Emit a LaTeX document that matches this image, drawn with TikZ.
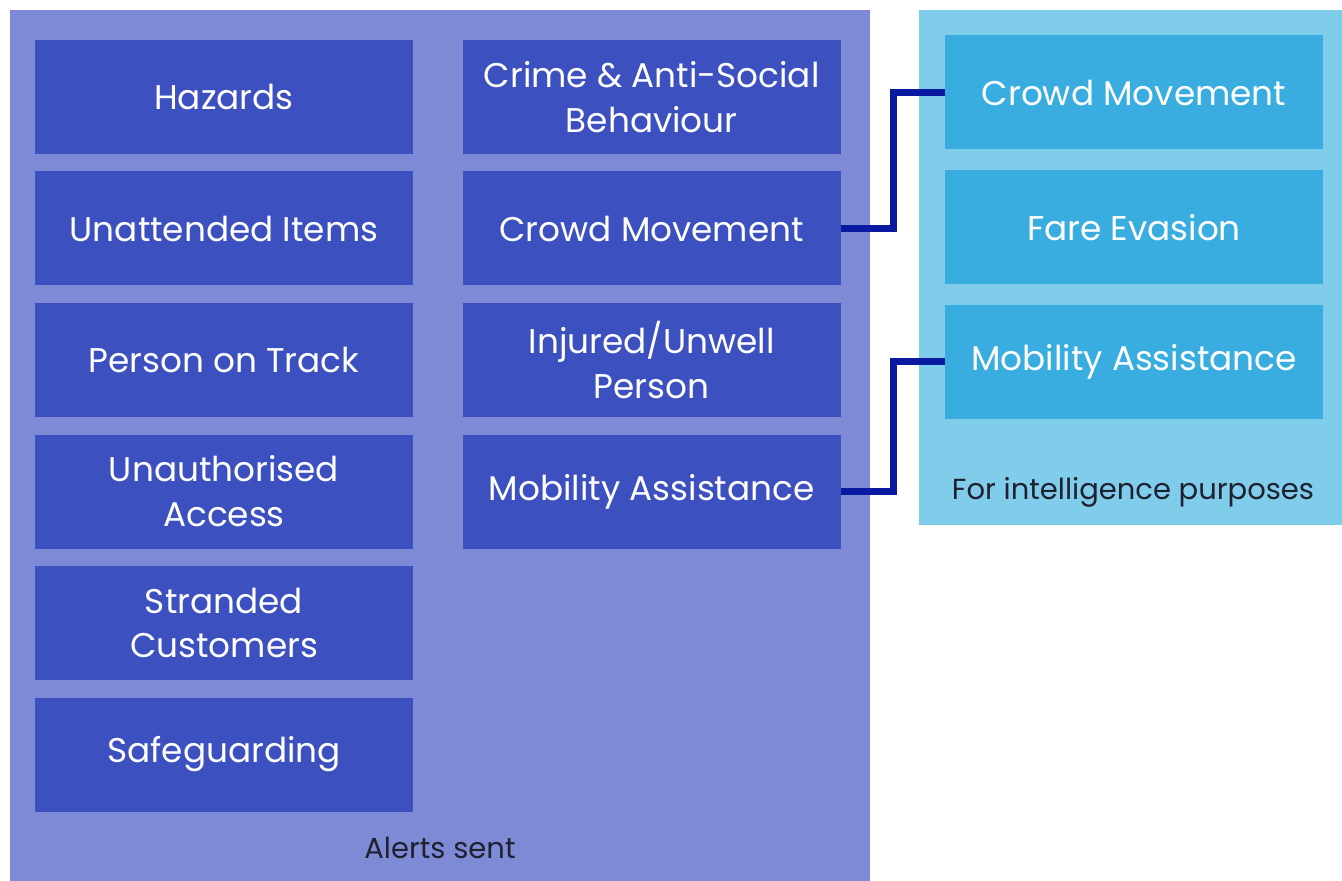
\documentclass[tikz,border=0pt]{standalone}
\usepackage{fontspec}
\setmainfont{Poppins}
\usetikzlibrary{positioning}

\definecolor{alertpanel}{HTML}{7F8AD6}
\definecolor{alertfill}{HTML}{3D50C0}
\definecolor{intelpanel}{HTML}{7FCCEB}
\definecolor{intelfill}{HTML}{39ADE0}
\definecolor{linkblue}{HTML}{0A1AA0}
\definecolor{labeltext}{HTML}{1F2030}

\begin{document}
\begin{tikzpicture}[
node distance=0.336cm,
alertbox/.style={
    fill=alertfill,
    text=white,
    minimum width=7.56cm,
    minimum height=2.28cm,
    inner sep=4pt,
    align=center,
    font=\fontsize{19.5}{25.5}\selectfont
},
intelbox/.style={
    alertbox,
    fill=intelfill
},
panellabel/.style={
    text=labeltext,
    font=\fontsize{16.5}{20}\selectfont
},
link/.style={
    draw=linkblue,
    line width=1.4mm
}
]

\useasboundingbox (0,0) rectangle (26.84,-17.62);

% panels
\fill[alertpanel] (0.2,-0.2) rectangle (17.4,-17.62);
\fill[intelpanel] (18.38,-0.2) rectangle (26.84,-10.5);

% alerts sent, left column
\node[alertbox] (hazards) at (4.48,-1.94) {Hazards};

\node[alertbox] (unattended) [below=of hazards]
{Unattended Items};

\node[alertbox] (track) [below=of unattended]
{Person on Track};

\node[alertbox] (access) [below=of track]
{Unauthorised\\Access};

\node[alertbox] (stranded) [below=of access]
{Stranded\\Customers};

\node[alertbox] (safeguarding) [below=of stranded]
{Safeguarding};

% alerts sent, right column
\node[alertbox] (crime) [right=0.98cm of hazards]
{Crime \& Anti-Social\\Behaviour};

\node[alertbox] (crowd) [below=of crime]
{Crowd Movement};

\node[alertbox] (injured) [below=of crowd]
{Injured/Unwell\\Person};

\node[alertbox] (mobility) [below=of injured]
{Mobility Assistance};

% intelligence
\node[intelbox] (crowdintel) at (22.68,-1.85)
{Crowd Movement};

\node[intelbox] (fare) [below=0.4cm of crowdintel]
{Fare Evasion};

\node[intelbox] (mobilityintel) [below=0.4cm of fare]
{Mobility Assistance};

\node[panellabel] (alertslabel) at (8.8,-16.96) {Alerts sent};
\node[panellabel] (intellabel) at (22.66,-9.84) {For intelligence purposes};

\draw[link] (crowd.east) -- ++(1.04,0) |- (crowdintel.west);
\draw[link] (mobility.east) -- ++(1.04,0) |- (mobilityintel.west);

\end{tikzpicture}
\end{document}
